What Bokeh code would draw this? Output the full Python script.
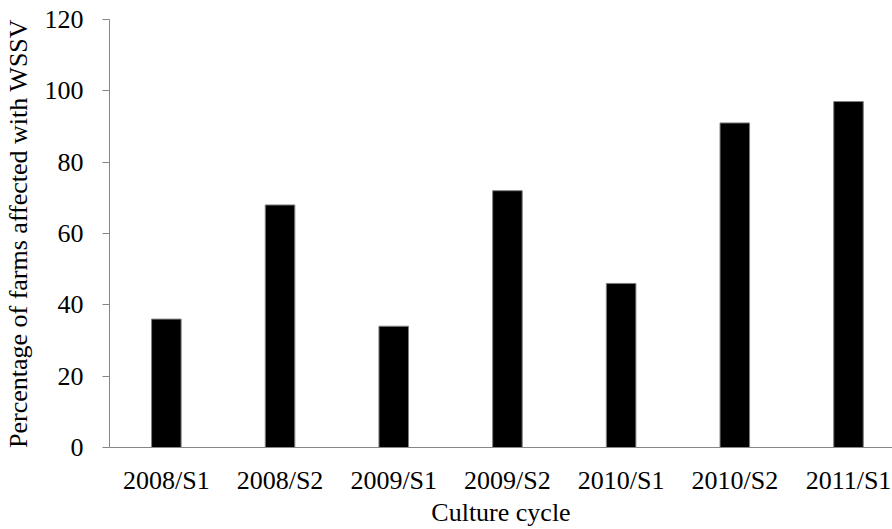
from bokeh.plotting import figure
from bokeh.models import FixedTicker, Range1d
from bokeh.embed import file_html
from bokeh.resources import INLINE

categories = ["2008/S1", "2008/S2", "2009/S1", "2009/S2", "2010/S1", "2010/S2", "2011/S1"]
percent_affected = [36, 68, 34, 72, 46, 91, 97]
y_ticks = [0, 20, 40, 60, 80, 100, 120]

xs = list(range(len(categories)))

FONT = "'Liberation Serif', 'Times New Roman', serif"
AXIS_COLOR = "#868686"

p = figure(width=892, height=529, output_backend="svg", toolbar_location=None,
           x_range=Range1d(-0.5, 6.387), y_range=Range1d(0, 120),
           min_border_left=108, min_border_right=0, min_border_top=19, min_border_bottom=81)

p.vbar(x=xs, top=percent_affected, width=0.26, fill_color="black",
       line_color="#808080", line_width=1)

p.xgrid.visible = False
p.ygrid.visible = False
p.outline_line_color = None
p.background_fill_color = "white"
p.border_fill_color = "white"

# x axis
p.xaxis.ticker = FixedTicker(ticks=xs)
p.xaxis.major_label_overrides = {i: c for i, c in enumerate(categories)}
p.xaxis.major_tick_line_color = None
p.xaxis.minor_tick_line_color = None
p.xaxis.major_tick_out = 0
p.xaxis.major_tick_in = 0
p.xaxis.axis_line_color = AXIS_COLOR
p.xaxis.major_label_standoff = 18
p.xaxis.axis_label = "Culture cycle"
p.xaxis.axis_label_standoff = 0

# y axis
p.yaxis.ticker = FixedTicker(ticks=y_ticks)
p.yaxis.minor_tick_line_color = None
p.yaxis.major_tick_out = 7
p.yaxis.major_tick_in = 0
p.yaxis.major_tick_line_color = AXIS_COLOR
p.yaxis.axis_line_color = AXIS_COLOR
p.yaxis.major_label_standoff = 19
p.yaxis.axis_label = "Percentage of farms affected with WSSV"
p.yaxis.axis_label_standoff = 9

for ax in (p.xaxis, p.yaxis):
    ax.major_label_text_font = FONT
    ax.major_label_text_font_size = "26px"
    ax.major_label_text_color = "black"
    ax.axis_label_text_font = FONT
    ax.axis_label_text_font_size = "26px"
    ax.axis_label_text_font_style = "normal"
    ax.axis_label_text_color = "black"

open("out.html", "w").write(file_html(p, INLINE))
